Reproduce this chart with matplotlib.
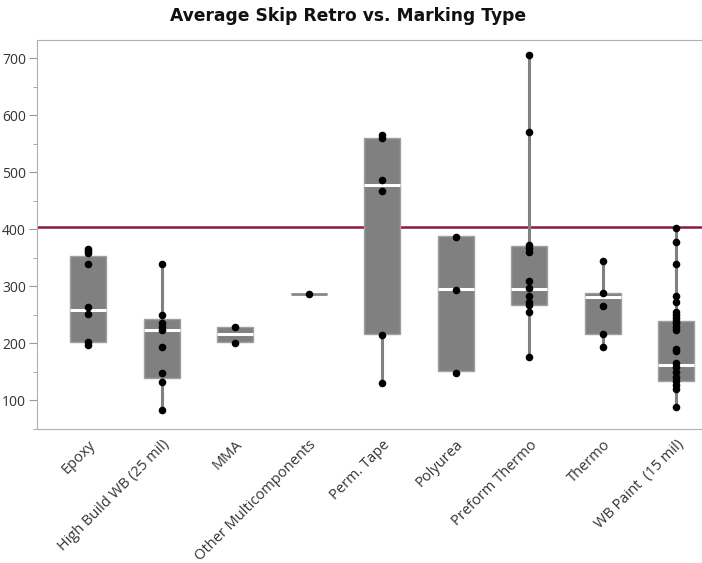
import matplotlib
matplotlib.use("Agg")
import matplotlib.pyplot as plt
import matplotlib.transforms as mtransforms
import numpy as np

categories = ["Epoxy", "High Build WB (25 mil)", "MMA", "Other Multicomponents",
              "Perm. Tape", "Polyurea", "Preform Thermo", "Thermo", "WB Paint  (15 mil)"]

points = [
    [365, 362, 359, 340, 264, 252, 203, 197],
    [340, 249, 235, 228, 223, 193, 149, 132, 84],
    [228, 200],
    [286],
    [565, 561, 486, 467, 214, 130],
    [386, 293, 149],
    [706, 570, 372, 367, 360, 309, 298, 284, 272, 267, 255, 176],
    [344, 289, 265, 216, 194],
    [402, 377, 339, 283, 272, 255, 250, 245, 240, 235, 228, 223, 191, 186,
     165, 158, 150, 142, 135, 128, 120, 88],
]

whisker_low = [197, 84, 200, 286, 130, 149, 176, 194, 88]
quartile_1 = [202, 140, 202, 286, 216, 151, 268, 216, 134]
medians = [259, 223, 216, 286, 477, 295, 296, 281, 162]
quartile_3 = [354, 242, 228, 286, 561, 388, 371, 289, 240]
whisker_high = [365, 340, 228, 286, 565, 388, 706, 344, 402]

reference_value = 405
yticks = [100, 200, 300, 400, 500, 600, 700]

plt.rcParams['font.family'] = ['Open Sans', 'DejaVu Sans']

fig = plt.figure(figsize=(7.02, 5.63), dpi=100)
ax = fig.add_axes([0.0527, 0.238, 0.9473, 0.691])

stats = []
for i, c in enumerate(categories):
    stats.append(dict(label=c, whislo=whisker_low[i], q1=quartile_1[i], med=medians[i],
                      q3=quartile_3[i], whishi=whisker_high[i], fliers=[]))

pos = np.arange(len(categories))
art = ax.bxp(stats, positions=pos, widths=0.49, patch_artist=True, showcaps=False,
             boxprops=dict(facecolor='#808080', edgecolor='#a0a0a0', linewidth=1),
             medianprops=dict(color='white', linewidth=2.2),
             whiskerprops=dict(color='#808080', linewidth=2.2),
             zorder=2)
for i in range(len(categories)):
    if quartile_1[i] == quartile_3[i]:
        art['medians'][i].set_color('#8a8a8a')
        art['medians'][i].set_linewidth(2.0)
        art['boxes'][i].set_edgecolor('#8a8a8a')

ax.axhline(reference_value, color='#8b1a3f', linewidth=1.8, zorder=1)

for i, pts in enumerate(points):
    ax.scatter(np.full(len(pts), pos[i]), pts, s=30, color='black', zorder=3, linewidths=0)

ax.set_xlim(-0.694, 8.35)
ax.set_ylim(51, 732)
ax.set_yticks(yticks)
ax.set_yticks(np.arange(50, 731, 50), minor=True)
ax.set_xticks(pos)
ax.set_xticklabels(categories, rotation=45, ha='right', va='top',
                   rotation_mode='anchor', fontsize=10.5, color='#333333')
offset = mtransforms.ScaledTranslation(4 / 100, -2 / 100, fig.dpi_scale_trans)
for lab in ax.get_xticklabels():
    lab.set_transform(lab.get_transform() + offset)
ax.tick_params(axis='x', length=0, pad=6)
ax.tick_params(axis='y', which='major', length=6, color='#9a9a9a', labelsize=10,
               labelcolor='#333333', pad=2)
ax.tick_params(axis='y', which='minor', length=3, color='#9a9a9a')

for s in ['left', 'bottom', 'top']:
    ax.spines[s].set_color('#b0b0b0')
ax.spines['right'].set_visible(False)

fig.text(0.496, 0.972, "Average Skip Retro vs. Marking Type", ha='center', va='center',
         fontsize=12.3, fontweight='bold', color='#111111', family='DejaVu Sans')

fig.savefig("out.png", dpi=100)
